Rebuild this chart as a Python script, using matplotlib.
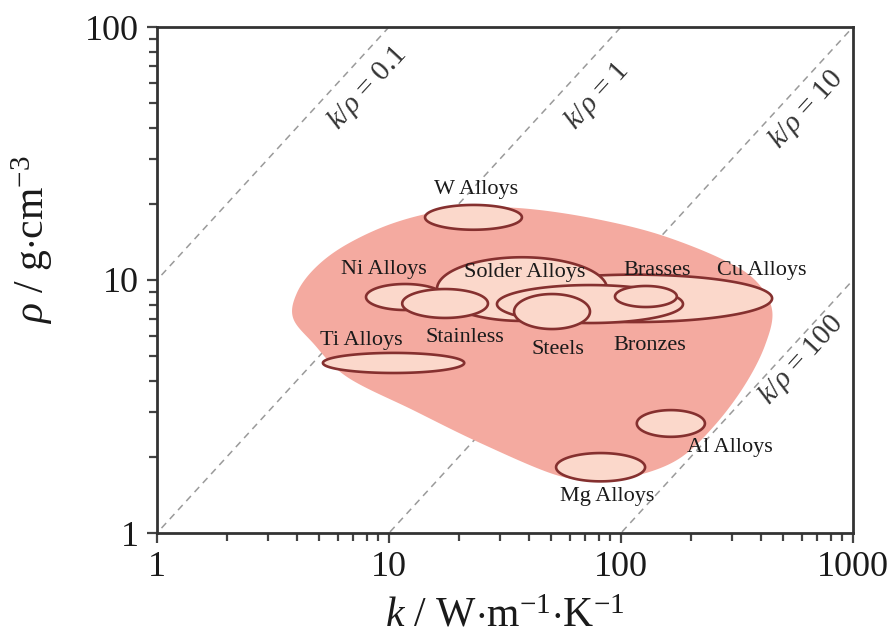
import numpy as np
import matplotlib
matplotlib.use('Agg')
import matplotlib.pyplot as plt
from matplotlib.ticker import FixedLocator, FixedFormatter, NullFormatter

plt.rcParams['font.family'] = ['Liberation Serif', 'DejaVu Serif']
plt.rcParams['mathtext.fontset'] = 'custom'
plt.rcParams['mathtext.rm'] = 'Liberation Serif'
plt.rcParams['mathtext.it'] = 'Liberation Serif:italic'
plt.rcParams['mathtext.bf'] = 'Liberation Serif:bold'

# ---------------- data ----------------
materials = ['Cu Alloys', 'Solder Alloys', 'Ni Alloys', 'Stainless', 'Bronzes',
             'Brasses', 'Steels', 'W Alloys', 'Ti Alloys', 'Al Alloys', 'Mg Alloys']
k_min   = [29.2, 16.1, 7.96, 11.4, 29.2, 94.2, 34.6, 14.3, 5.19, 117, 52.5]
k_max   = [448, 87.1, 17.3, 26.7, 185, 174, 73.5, 37.4, 21.1, 230, 127]
rho_min = [6.82, 6.89, 7.61, 7.08, 6.76, 7.82, 6.40, 15.8, 4.29, 2.40, 1.60]
rho_max = [10.5, 12.3, 9.64, 9.21, 9.55, 9.47, 8.80, 19.8, 5.15, 3.06, 2.07]

# envelope of all metals (boundary points, clockwise from the left tip)
env_k   = [3.86, 4.01, 4.80, 6.46, 10.1, 16.6, 27.3, 44.7, 81.2, 147, 267, 378,
           448, 418, 342, 254, 180, 121, 81.2, 52.0, 24.7, 12.7, 6.59, 4.70]
env_rho = [7.08, 8.89, 11.15, 13.7, 16.6, 18.7, 19.4, 18.9, 17.3, 15.1, 12.2, 10.0,
           7.61, 5.53, 3.85, 2.67, 1.98, 1.70, 1.61, 1.70, 2.27, 3.06, 4.14, 5.64]

ratios = [0.1, 1, 10, 100]
ratio_labels = [r'$k/\rho$ = 0.1', r'$k/\rho$ = 1', r'$k/\rho$ = 10', r'$k/\rho$ = 100']

x_ticks = [1, 10, 100, 1000]
x_tick_labels = ['1', '10', '100', '1000']
y_ticks = [1, 10, 100]
y_tick_labels = ['1', '10', '100']

# ---------------- layout ----------------
label_xy = {
    'W Alloys': (23.7, 22.7), 'Ni Alloys': (9.52, 10.96), 'Solder Alloys': (38.6, 10.66),
    'Brasses': (143, 10.86), 'Cu Alloys': (405, 10.86), 'Stainless': (21.3, 5.95),
    'Steels': (53.5, 5.29), 'Bronzes': (133, 5.53), 'Ti Alloys': (7.57, 5.79),
    'Al Alloys': (295, 2.17), 'Mg Alloys': (87.1, 1.40),
}
ratio_label_xy = [(8.12, 57.4), (78.8, 53.4), (627, 47.0), (597, 4.83)]

ENV_COLOR = '#F4AAA0'
ELL_FACE = '#FBD8CB'
ELL_EDGE = '#85302F'
TEXT = '#1a1a1a'


def catmull_rom_closed(P, n=30):
    P = np.asarray(P, dtype=float)
    N = len(P)
    out = []
    t = np.linspace(0, 1, n, endpoint=False)[:, None]
    for i in range(N):
        p0, p1, p2, p3 = P[i - 1], P[i], P[(i + 1) % N], P[(i + 2) % N]
        out.append(0.5 * (2 * p1 + (-p0 + p2) * t + (2 * p0 - 5 * p1 + 4 * p2 - p3) * t ** 2
                          + (-p0 + 3 * p1 - 3 * p2 + p3) * t ** 3))
    return np.vstack(out)


fig = plt.figure(figsize=(8.91, 6.39), dpi=100)
ax = fig.add_axes([157 / 891, 1 - 533 / 639, 696 / 891, 506 / 639])
ax.set_xscale('log')
ax.set_yscale('log')
ax.set_xlim(1, 1000)
ax.set_ylim(1, 100)

# diagonal guide lines
kk = np.array([0.5, 2000.0])
for c in ratios:
    ax.plot(kk, kk / c, ls=(0, (4.5, 3.5)), color='#9a9a9a', lw=1.1, zorder=1)

# envelope
P = np.column_stack([np.log10(env_k), np.log10(env_rho)])
S = catmull_rom_closed(P)
ax.fill(10 ** S[:, 0], 10 ** S[:, 1], color=ENV_COLOR, lw=0, zorder=2)

# ellipses (in log space)
tt = np.linspace(0, 2 * np.pi, 300)
for i, name in enumerate(materials):
    lx0, lx1 = np.log10(k_min[i]), np.log10(k_max[i])
    ly0, ly1 = np.log10(rho_min[i]), np.log10(rho_max[i])
    cx, cy = (lx0 + lx1) / 2, (ly0 + ly1) / 2
    a, b = (lx1 - lx0) / 2, (ly1 - ly0) / 2
    ex = 10 ** (cx + a * np.cos(tt))
    ey = 10 ** (cy + b * np.sin(tt))
    ax.fill(ex, ey, facecolor=ELL_FACE, edgecolor=ELL_EDGE, lw=1.9, zorder=3 + i * 0.01)

# material labels
for name in materials:
    x, y = label_xy[name]
    ax.text(x, y, name, fontsize=16, ha='center', va='center', color=TEXT, zorder=5)

# ratio labels
ang = np.degrees(np.arctan2(253, 232))
for (x, y), s in zip(ratio_label_xy, ratio_labels):
    ax.text(x, y, s, fontsize=21, rotation=ang, rotation_mode='anchor',
            ha='center', va='center', color='#333333', zorder=5)

# axes styling
for side in ['left', 'bottom', 'right', 'top']:
    ax.spines[side].set_linewidth(2.0)
    ax.spines[side].set_color('#333333')

ax.xaxis.set_major_locator(FixedLocator(x_ticks))
ax.xaxis.set_major_formatter(FixedFormatter(x_tick_labels))
ax.yaxis.set_major_locator(FixedLocator(y_ticks))
ax.yaxis.set_major_formatter(FixedFormatter(y_tick_labels))
xminor = [m * 10 ** e for e in range(0, 3) for m in range(2, 10)]
yminor = [m * 10 ** e for e in range(0, 2) for m in range(2, 10)]
ax.xaxis.set_minor_locator(FixedLocator(xminor))
ax.yaxis.set_minor_locator(FixedLocator(yminor))
ax.xaxis.set_minor_formatter(NullFormatter())
ax.yaxis.set_minor_formatter(NullFormatter())

ax.tick_params(which='both', direction='out', top=False, right=False,
               width=1.6, color='#444444', labelsize=26, labelcolor=TEXT)
ax.tick_params(which='major', length=7, pad=6)
ax.tick_params(which='minor', length=6)

ax.set_xlabel(r'$k$ / W$\cdot$m$^{\mathrm{-1}}$$\cdot$K$^{\mathrm{-1}}$', fontsize=30, color=TEXT)
ax.set_ylabel(r'$\rho$ / g$\cdot$cm$^{\mathrm{-3}}$', fontsize=30, color=TEXT)
ax.xaxis.set_label_coords(0.5, -0.127)
ax.yaxis.set_label_coords(-0.147, 0.58)

fig.savefig('out.png', dpi=100)
